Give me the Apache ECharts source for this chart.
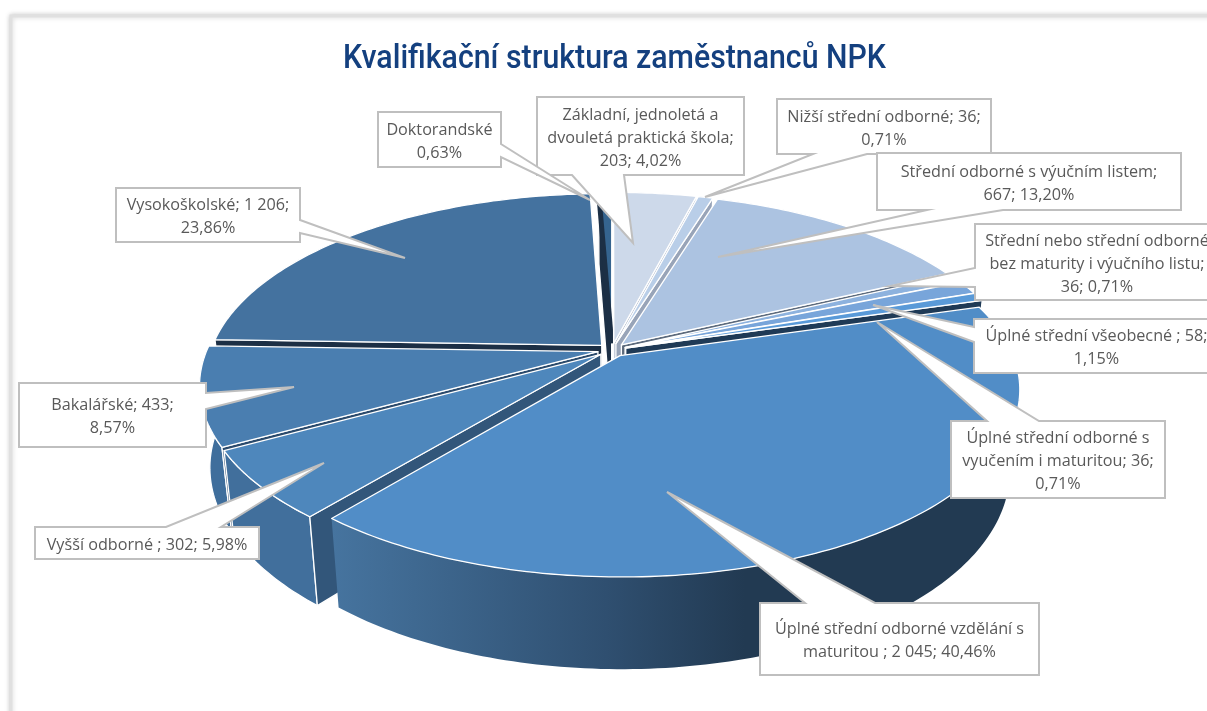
<!DOCTYPE html>
<html><head><meta charset="utf-8">
<style>html,body{margin:0;padding:0;background:#fff;overflow:hidden}#c{width:1207px;height:711px}</style>
<script src="https://cdn.jsdelivr.net/npm/echarts@6/dist/echarts.min.js"></script>
</head><body><div id="c"></div>
<script>
// ---- data ----
const titleText = 'Kvalifikační struktura zaměstnanců NPK';
const categories = ['Základní, jednoletá a dvouletá praktická škola','Nižší střední odborné','Střední odborné s výučním listem','Střední nebo střední odborné bez maturity i výučního listu','Úplné střední všeobecné','Úplné střední odborné s vyučením i maturitou','Úplné střední odborné vzdělání s maturitou','Vyšší odborné','Bakalářské','Vysokoškolské','Doktorandské'];
const values = [203,36,667,36,58,36,2045,302,433,1206,32];
const labelTexts = [
 'Základní, jednoletá a\ndvouletá praktická škola;\n203; 4,02%',
 'Nižší střední odborné; 36;\n0,71%',
 'Střední odborné s výučním listem;\n667; 13,20%',
 'Střední nebo střední odborné\nbez maturity i výučního listu;\n36; 0,71%',
 'Úplné střední všeobecné ; 58;\n1,15%',
 'Úplné střední odborné s\nvyučením i maturitou; 36;\n0,71%',
 'Úplné střední odborné vzdělání s\nmaturitou ; 2 045; 40,46%',
 'Vyšší odborné ; 302; 5,98%',
 'Bakalářské; 433;\n8,57%',
 'Vysokoškolské; 1 206;\n23,86%',
 'Doktorandské\n0,63%'
];
// ---- styles ----
const topColors = ['#cdd9ea','#b9cee8','#acc3e1','#8db2de','#78a5da','#5a9ad8','#518dc7','#4e87bc','#4a7eb0','#44729f','#35648f'];
const faceColors = ['#9aa7bd','#98a4b8','#5c6a7c','#5a6f86','#3a6ea6','#1f3a56','#223a52','#32567a','#2a4a6c','#1c2f45','#1c2f45'];
const wallColors = ['#9fb0c9','#93a6c2','#8496b4','#6f8fb8','#5c86b5','#3f74a8','#223a52','#416f9c','#3f6e9c','#3a618a','#2a4a6c'];
const paintOrder = [9,10,0,1,2,3,4,5,8,7,6];
// ---- projection layout ----
const geo = {cx:612, cy:350, rx:391, ry:180, p:0.177, depth:80, shrink:0.025, explode:0.037};
// callouts: box [x,y,w,h], pointer base two points on the box edge, tip
const callouts = [
 {box:[537,97,207,78], base:[[624,175],[572,175]], edge:'bottom', tip:[633,243]},
 {box:[777,99,214,55], base:[[867,154],[813,154]], edge:'bottom', tip:[705,197]},
 {box:[877,153,304,57], base:[[1003,210],[927,210]], edge:'bottom', tip:[718,257]},
 {box:[975,224,244,76], base:[[975,287],[975,268]], edge:'left', tip:[890,286]},
 {box:[974,319,245,54], base:[[974,342],[974,327]], edge:'left', tip:[873,305]},
 {box:[951,421,214,77], base:[[987,421],[1039,421]], edge:'top', tip:[877,322]},
 {box:[760,603,279,72], base:[[805,603],[875,603]], edge:'top', tip:[667,492]},
 {box:[35,527,224,32], base:[[166,527],[221,527]], edge:'top', tip:[324,463]},
 {box:[19,383,187,64], base:[[206,393],[206,409]], edge:'right', tip:[294,387]},
 {box:[116,188,184,54], base:[[300,220],[300,233]], edge:'right', tip:[405,258]},
 {box:[378,112,123,55], base:[[501,144],[501,157]], edge:'right', tip:[590,200]}
];
const titleBox = {x:343, y:60, width:543, font:'500 33px Roboto'};
const total = values.reduce((a,b)=>a+b,0);
const angles = []; values.reduce((acc,v,i)=>{angles[i]=[acc/total*2*Math.PI,(acc+v)/total*2*Math.PI];return acc+v;},0);

function proj(u,v,h){
  const s = 1/(1-geo.p*v), k = 1-geo.shrink*h;
  return [geo.cx+geo.rx*u*s*k, geo.cy+geo.ry*v*s*k+geo.depth*h*s];
}
function area(pts){let a=0;pts.forEach((p,i)=>{const q=pts[(i+1)%pts.length];a+=p[0]*q[1]-q[0]*p[1];});return a;}
function renderSlice(params){
  const i = paintOrder[params.dataIndex];
  const [a0,a1] = angles[i];
  const mid=(a0+a1)/2, ox=geo.explode*Math.sin(mid), oy=-geo.explode*Math.cos(mid);
  const pt=(a,h)=>proj(ox+Math.sin(a),oy-Math.cos(a),h);
  const apex=h=>proj(ox,oy,h);
  const n=Math.max(2,Math.ceil((a1-a0)/(Math.PI/180)));
  const rimT=[],rimB=[];
  for(let k=0;k<=n;k++){const a=a0+(a1-a0)*k/n;rimT.push(pt(a,0));rimB.push(pt(a,1));}
  const edge={stroke:'#ffffff',lineWidth:1.3,lineJoin:'round'};
  const wallFill = i===6 ? {type:'linear',x:0,y:0,x2:1,y2:0,colorStops:[{offset:0,color:'#46749f'},{offset:.4,color:'#2f4f70'},{offset:.6,color:'#223a52'},{offset:1,color:'#223a52'}]} : wallColors[i];
  const children=[{type:'polygon',shape:{points:rimT.concat(rimB.slice().reverse())},style:Object.assign({fill:wallFill},i===6?{stroke:'none'}:edge)}];
  const startFace=[apex(0),rimT[0],rimB[0],apex(1)], endFace=[apex(0),rimT[n],rimB[n],apex(1)];
  if(area(startFace)<0) children.push({type:'polygon',shape:{points:startFace},style:Object.assign({fill:faceColors[i]},edge)});
  if(area(endFace)>0) children.push({type:'polygon',shape:{points:endFace},style:Object.assign({fill:faceColors[i]},edge)});
  children.push({type:'polygon',shape:{points:[apex(0)].concat(rimT)},style:Object.assign({fill:topColors[i]},edge)});
  if(i===10) children.push({type:'polyline',shape:{points:[rimT[0],apex(0)]},style:{stroke:faceColors[i],lineWidth:5,fill:'none'}});
  return {type:'group',children};
}
function renderCallout(params){
  const c=callouts[params.dataIndex];
  const [x,y,w,h]=c.box, [b0,b1]=c.base, r=x+w, d=y+h;
  let pts;
  if(c.edge==='top') pts=[[x,y],b0,c.tip,b1,[r,y],[r,d],[x,d]];
  else if(c.edge==='bottom') pts=[[x,y],[r,y],[r,d],b0,c.tip,b1,[x,d]];
  else if(c.edge==='left') pts=[[x,y],[r,y],[r,d],[x,d],b0,c.tip,b1];
  else pts=[[x,y],[r,y],b0,c.tip,b1,[r,d],[x,d]];
  return {type:'group',children:[
    {type:'polygon',shape:{points:pts},style:{fill:'#fff',stroke:'#bfbfbf',lineWidth:2,lineJoin:'miter'}},
    {type:'text',x:x+w/2,y:y+h/2+2,style:{text:labelTexts[params.dataIndex],align:'center',verticalAlign:'middle',font:'16.2px "Open Sans"',lineHeight:23,fill:'#595959'}}
  ]};
}
const mctx=document.createElement('canvas').getContext('2d');
mctx.font=titleBox.font;
const titleScale=titleBox.width/mctx.measureText(titleText).width;
const chart = echarts.init(document.getElementById('c'),null,{renderer:'canvas',width:1207,height:711});
chart.setOption({
  animation:false,
  backgroundColor:'#fff',
  graphic:[
    {type:'rect',silent:true,z:-10,shape:{x:11,y:16,width:1400,height:900},style:{fill:'#fff',stroke:'#e0e0e0',lineWidth:3,shadowBlur:5,shadowColor:'rgba(0,0,0,.18)'}},
    {type:'text',silent:true,z:5,x:titleBox.x,y:titleBox.y,scaleX:titleScale,style:{text:titleText,font:titleBox.font,fill:'#14407f',align:'left',verticalAlign:'middle'}}
  ],
  series:[
    {type:'custom',coordinateSystem:'none',z:2,silent:true,renderItem:renderSlice,data:paintOrder.map(i=>({name:categories[i],value:[i,values[i]]}))},
    {type:'custom',coordinateSystem:'none',z:3,silent:true,renderItem:renderCallout,data:categories.map((n,i)=>({name:n,value:[i,values[i]]}))}
  ]
});
</script></body></html>
